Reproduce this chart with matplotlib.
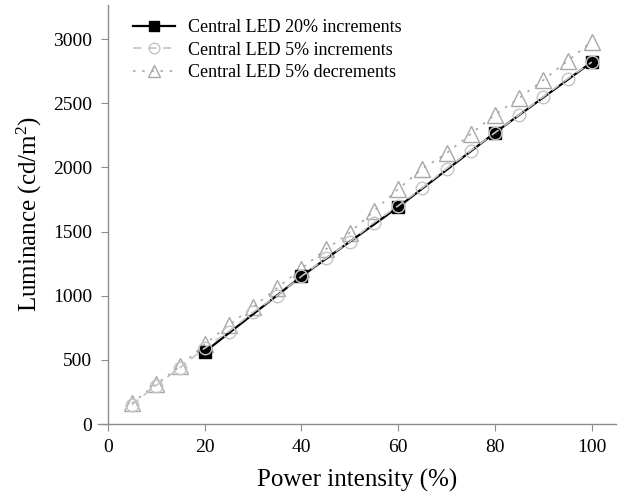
import matplotlib
matplotlib.use("Agg")
import matplotlib.pyplot as plt

x20 = [20, 40, 60, 80, 100]
y20 = [560, 1150, 1690, 2270, 2820]

x5 = [5, 10, 15, 20, 25, 30, 35, 40, 45, 50, 55, 60, 65, 70, 75, 80, 85, 90, 95, 100]
y5_inc = [150, 300, 440, 590, 720, 870, 1000, 1150, 1290, 1420, 1570, 1700, 1840, 1990, 2130, 2270, 2410, 2550, 2690, 2820]
y5_dec = [160, 310, 450, 620, 770, 910, 1060, 1210, 1360, 1490, 1660, 1830, 1990, 2110, 2260, 2410, 2540, 2680, 2830, 2980]

xticks = [0, 20, 40, 60, 80, 100]
yticks = [0, 500, 1000, 1500, 2000, 2500, 3000]

plt.rcParams['font.family'] = ['Liberation Serif', 'DejaVu Serif']
plt.rcParams['mathtext.default'] = 'regular'
plt.rcParams['mathtext.fontset'] = 'custom'
plt.rcParams['mathtext.rm'] = 'Liberation Serif'

fig = plt.figure(figsize=(6.18, 4.94), dpi=100)
ax = fig.add_axes([98 / 618, 1 - 424 / 494, 518 / 618, 419 / 494])

ax.plot(x20, y20, color='black', lw=1.6, ls='-', marker='s', ms=8,
        mfc='black', mec='black', label='Central LED 20% increments', zorder=3)
ax.plot(x5, y5_inc, color='#c4c4c4', lw=1.2, ls=(0, (5, 4)), marker='o', ms=9,
        mfc='none', mec='#c4c4c4', label='Central LED 5% increments', zorder=4)
ax.plot(x5, y5_dec, color='#a8a8a8', lw=1.2, ls=(0, (1.5, 4)), marker='^', ms=11,
        mfc='none', mec='#a8a8a8', label='Central LED 5% decrements', zorder=2)

ax.set_xlim(-2, 105)
ax.set_ylim(0, 3265)
ax.spines['left'].set_position(('data', 0))
ax.spines['bottom'].set_position(('data', 0))
ax.spines['right'].set_visible(False)
ax.spines['top'].set_visible(False)
for s in ['left', 'bottom']:
    ax.spines[s].set_color('#8c8c8c')
    ax.spines[s].set_linewidth(1.0)

ax.set_xticks(xticks)
ax.set_yticks(yticks)
ax.tick_params(direction='out', length=5, color='#8c8c8c', labelsize=14, pad=6)

ax.set_xlabel('Power intensity (%)', fontsize=18, labelpad=9)
ax.set_ylabel('Luminance (cd/m$^2$)', fontsize=18, labelpad=6.5)

ax.legend(loc='upper left', bbox_to_anchor=(0.0676, 0.966), frameon=False,
          fontsize=13, handlelength=2.33, handletextpad=0.72, labelspacing=0.3,
          borderaxespad=0, borderpad=0, markerscale=0.85)

fig.savefig('out.png', dpi=100)
